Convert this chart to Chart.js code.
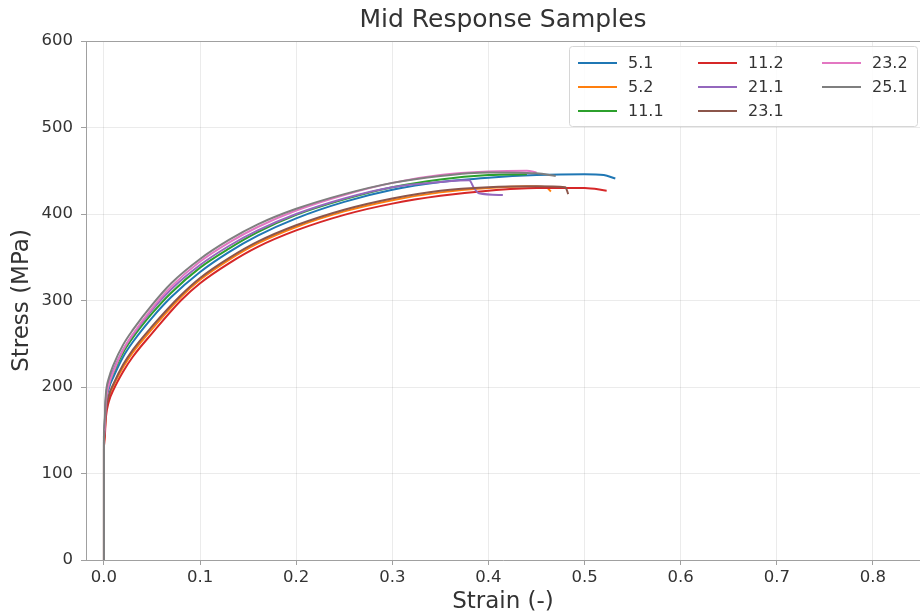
<!DOCTYPE html>
<html>
<head>
<meta charset="utf-8">
<script src="https://cdn.jsdelivr.net/npm/chart.js@4"></script>
<style>
  html, body { margin: 0; padding: 0; background: #fff; }
  #wrap { width: 920px; height: 614px; }
</style>
</head>
<body>
<div id="wrap"><canvas id="chart" width="920" height="614"></canvas></div>
<script>
// sample labels and colours (matplotlib tab10 order)
var labels = ['5.1', '5.2', '11.1', '11.2', '21.1', '23.1', '23.2', '25.1'];
var colors = ['#1f77b4', '#ff7f0e', '#2ca02c', '#d62728', '#9467bd', '#8c564b', '#e377c2', '#7f7f7f'];

// strain (-) / stress (MPa)
var strain51 = [0, 0, 0.002, 0.005, 0.01, 0.02, 0.03, 0.05, 0.07, 0.10, 0.13, 0.16, 0.20, 0.25, 0.30, 0.35, 0.40, 0.45, 0.50, 0.52, 0.532];
var stress51 = [0, 140, 180, 198, 212, 235, 252, 280, 304, 333, 356, 375, 395, 414, 428, 437, 442, 445, 446, 445, 441];

var strain52 = [0, 0, 0.002, 0.005, 0.01, 0.02, 0.03, 0.05, 0.08, 0.10, 0.13, 0.16, 0.20, 0.25, 0.30, 0.35, 0.40, 0.44, 0.46, 0.465];
var stress52 = [0, 135, 170, 188, 202, 223, 240, 267, 304, 324, 347, 366, 385, 403, 416, 425, 430, 432, 431, 426];

var strain111 = [0, 0, 0.002, 0.005, 0.01, 0.02, 0.03, 0.05, 0.07, 0.10, 0.13, 0.16, 0.20, 0.25, 0.30, 0.35, 0.40, 0.44];
var stress111 = [0, 145, 185, 203, 217, 240, 257, 285, 309, 338, 360, 379, 399, 417, 431, 440, 445, 446];

var strain112 = [0, 0, 0.002, 0.005, 0.01, 0.02, 0.03, 0.05, 0.08, 0.10, 0.13, 0.16, 0.20, 0.25, 0.30, 0.35, 0.40, 0.45, 0.50, 0.523];
var stress112 = [0, 130, 165, 183, 197, 218, 235, 262, 300, 320, 343, 362, 381, 399, 412, 421, 427, 430, 430, 427];

var strain211 = [0, 0, 0.002, 0.005, 0.01, 0.02, 0.03, 0.05, 0.07, 0.10, 0.13, 0.16, 0.20, 0.25, 0.30, 0.35, 0.38, 0.385, 0.39, 0.415];
var stress211 = [0, 145, 188, 206, 220, 243, 260, 289, 313, 341, 363, 381, 400, 418, 431, 437, 439, 430, 424, 422];

var strain231 = [0, 0, 0.002, 0.005, 0.01, 0.02, 0.03, 0.05, 0.08, 0.10, 0.13, 0.16, 0.20, 0.25, 0.30, 0.35, 0.40, 0.45, 0.48, 0.483];
var stress231 = [0, 138, 172, 190, 204, 226, 243, 270, 306, 326, 349, 368, 387, 405, 418, 427, 431, 432, 431, 423];

var strain232 = [0, 0, 0.002, 0.005, 0.01, 0.02, 0.03, 0.05, 0.07, 0.10, 0.13, 0.16, 0.20, 0.25, 0.30, 0.35, 0.40, 0.44, 0.45];
var stress232 = [0, 140, 182, 202, 218, 243, 261, 291, 316, 345, 367, 385, 404, 422, 436, 445, 449, 450, 448];

var strain251 = [0, 0, 0.002, 0.005, 0.01, 0.02, 0.03, 0.05, 0.07, 0.10, 0.13, 0.16, 0.20, 0.25, 0.30, 0.35, 0.40, 0.45, 0.47];
var stress251 = [0, 150, 192, 210, 226, 249, 266, 295, 320, 348, 370, 388, 406, 423, 436, 444, 448, 447, 444];

var xTicks = [0.0, 0.1, 0.2, 0.3, 0.4, 0.5, 0.6, 0.7, 0.8];
var yTicks = [0, 100, 200, 300, 400, 500, 600];

var strains = [strain51, strain52, strain111, strain112, strain211, strain231, strain232, strain251];
var stresses = [stress51, stress52, stress111, stress112, stress211, stress231, stress232, stress251];

function toPoints(xs, ys) {
    var pts = [];
    for (var i = 0; i < xs.length; i++) {
        pts.push({x: xs[i], y: ys[i]});
    }
    return pts;
}

var datasets = [];
for (var i = 0; i < labels.length; i++) {
    datasets.push({
        label: labels[i],
        data: toPoints(strains[i], stresses[i]),
        borderColor: colors[i],
        backgroundColor: colors[i],
        borderWidth: 2,
        pointRadius: 0,
        showLine: true,
        cubicInterpolationMode: 'monotone',
        order: labels.length - i   // later series on top, like matplotlib
    });
}

var FONT = 'DejaVu Sans';

// top spine + matplotlib style legend box (3 columns, filled column by column)
var framePlugin = {
    id: 'frame',
    afterDraw: function(chart) {
        var ctx = chart.ctx, a = chart.chartArea;
        ctx.save();
        ctx.strokeStyle = '#a0a0a0';
        ctx.lineWidth = 1;
        ctx.beginPath();
        ctx.moveTo(a.left, a.top + 0.5);
        ctx.lineTo(a.right, a.top + 0.5);
        ctx.stroke();

        var boxX = 569, boxY = 46, boxW = 348, boxH = 80;
        ctx.fillStyle = 'rgba(255,255,255,0.85)';
        ctx.strokeStyle = '#d6d6d6';
        ctx.beginPath();
        ctx.roundRect(boxX + 0.5, boxY + 0.5, boxW, boxH, 3);
        ctx.fill();
        ctx.stroke();

        var colX = [578, 698, 822];
        var rowY = [63, 87, 111];
        ctx.font = '16px ' + FONT;
        ctx.textBaseline = 'middle';
        ctx.textAlign = 'left';
        chart.data.datasets.forEach(function(ds, i) {
            var c = Math.floor(i / 3), r = i % 3;
            var x = colX[c], y = rowY[r];
            ctx.strokeStyle = ds.borderColor;
            ctx.lineWidth = 2;
            ctx.beginPath();
            ctx.moveTo(x, y);
            ctx.lineTo(x + 39, y);
            ctx.stroke();
            ctx.fillStyle = '#333';
            ctx.fillText(ds.label, x + 50, y + 1);
        });
        ctx.restore();
    }
};

var ctx = document.getElementById('chart');
new Chart(ctx, {
    type: 'scatter',
    data: { datasets: datasets },
    options: {
        responsive: false,
        animation: false,
        layout: { padding: { left: 0, right: 0, top: 0, bottom: 0 } },
        plugins: {
            legend: { display: false },
            tooltip: { enabled: false },
            title: {
                display: true,
                text: 'Mid Response Samples',
                fullSize: false,
                color: '#333',
                font: { family: FONT, size: 25, weight: 'normal', lineHeight: 1.2 },
                padding: { top: 5, bottom: 6 }
            }
        },
        scales: {
            x: {
                type: 'linear',
                min: -0.0187,
                max: 0.849,
                afterBuildTicks: function(scale) {
                    scale.ticks = xTicks.map(function(v) { return {value: v}; });
                },
                afterFit: function(scale) { scale.height = 54; },
                ticks: {
                    color: '#333',
                    font: { family: FONT, size: 16.5 },
                    padding: 3,
                    maxRotation: 0,
                    callback: function(v) { return v.toFixed(1); }
                },
                grid: { color: 'rgba(0,0,0,0.08)', tickColor: '#a0a0a0', tickLength: 5 },
                border: { color: '#a0a0a0' },
                title: {
                    display: true,
                    text: 'Strain (-)',
                    color: '#333',
                    font: { family: FONT, size: 23, lineHeight: 1.0 },
                    padding: { top: 0, bottom: 0 }
                }
            },
            y: {
                type: 'linear',
                min: 0,
                max: 600,
                afterBuildTicks: function(scale) {
                    scale.ticks = yTicks.map(function(v) { return {value: v}; });
                },
                afterFit: function(scale) { scale.width = 86; },
                ticks: {
                    color: '#333',
                    font: { family: FONT, size: 16.5 },
                    padding: 8
                },
                grid: { color: 'rgba(0,0,0,0.08)', tickColor: '#a0a0a0', tickLength: 5 },
                border: { color: '#a0a0a0' },
                title: {
                    display: true,
                    text: 'Stress (MPa)',
                    color: '#333',
                    font: { family: FONT, size: 23, lineHeight: 1.0 },
                    padding: { top: 11, bottom: 0 }
                }
            }
        }
    },
    plugins: [framePlugin]
});
</script>
</body>
</html>
